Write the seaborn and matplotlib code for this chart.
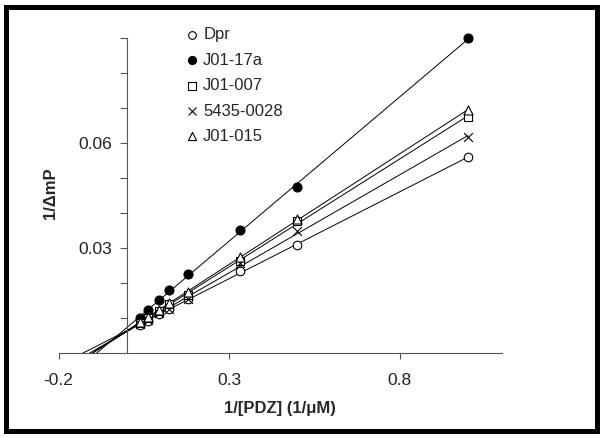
import matplotlib
matplotlib.use("Agg")
import matplotlib.pyplot as plt
from matplotlib.patches import Rectangle
import numpy as np
import pandas as pd
import seaborn as sns

# ---- data ----
inv_pdz = [1.0, 0.5, 0.333, 0.18, 0.125, 0.095, 0.062, 0.04]
dpr = [0.0560, 0.0309, 0.0236, 0.0155, 0.0127, 0.0111, 0.0093, 0.0082]
j01_17a = [0.0900, 0.0474, 0.0352, 0.0227, 0.0181, 0.0152, 0.0124, 0.0100]
j01_007 = [0.0676, 0.0379, 0.0264, 0.0166, 0.0140, 0.0122, 0.0101, 0.0088]
s5435_0028 = [0.0617, 0.0349, 0.0258, 0.0156, 0.0128, 0.0114, 0.0095, 0.0085]
j01_015 = [0.0695, 0.0384, 0.0274, 0.0174, 0.0145, 0.0125, 0.0104, 0.0090]

series_names = ["Dpr", "J01-17a", "J01-007", "5435-0028", "J01-015"]
series_values = [dpr, j01_17a, j01_007, s5435_0028, j01_015]

x_ticks = [-0.2, 0.3, 0.8]
x_tick_labels = ["-0.2", "0.3", "0.8"]
y_ticks = [0.01, 0.02, 0.03, 0.04, 0.05, 0.06, 0.07, 0.08, 0.09]
y_tick_labels = ["", "", "0.03", "", "", "0.06", "", "", ""]

# ---- styling ----
sns.set_style("white")
plt.rcParams["font.family"] = ["Liberation Sans", "DejaVu Sans"]
FS_TICK, FS_LAB, FS_LEG = 12.5, 12, 12

styles = {
    "Dpr": dict(marker="o", fc="white", s=38),
    "J01-17a": dict(marker="o", fc="black", s=42),
    "J01-007": dict(marker="s", fc="white", s=34),
    "5435-0028": dict(marker="x", fc="black", s=40),
    "J01-015": dict(marker="^", fc="white", s=42),
}

W, H = 601, 438
fig = plt.figure(figsize=(W / 100, H / 100), dpi=100)
ax = fig.add_axes([58.5 / W, 84.7 / H, 443.5 / W, 315 / H])

for name, vals in zip(series_names, series_values):
    df = pd.DataFrame({"x": inv_pdz, "y": vals})
    st = styles[name]
    # regression line extended back to the x axis, ending at the last point
    ax.set_xlim(-0.2, 1.0)
    ax.set_ylim(0, 0.09)
    scatter_kws = dict(s=st["s"], zorder=3, alpha=1, clip_on=False)
    if st["marker"] == "x":
        scatter_kws.update(color="black", linewidths=0.8)
    else:
        scatter_kws.update(facecolors=st["fc"], edgecolors="black", linewidths=0.8)
    sns.regplot(data=df, x="x", y="y", ax=ax, ci=None, truncate=False,
                marker=st["marker"], color="black", label=name,
                scatter_kws=scatter_kws,
                line_kws=dict(color="black", lw=0.7, zorder=2))

ax.set_xlim(-0.2, 1.1)
ax.set_ylim(0, 0.09)

ax.spines["left"].set_position(("data", 0))
ax.spines["top"].set_visible(False)
ax.spines["right"].set_visible(False)
for sp in ("left", "bottom"):
    ax.spines[sp].set_color("#555555")
    ax.spines[sp].set_linewidth(0.8)

ax.set_xticks(x_ticks)
ax.set_xticklabels(x_tick_labels)
ax.set_yticks(y_ticks)
ax.set_yticklabels(y_tick_labels)
ax.tick_params(axis="x", direction="out", length=4, width=0.8, color="#555555",
               pad=10, labelsize=FS_TICK, labelcolor="#222222", bottom=True)
ax.tick_params(axis="y", direction="out", length=5, width=0.8, color="#555555",
               pad=5.5, labelsize=FS_TICK, labelcolor="#222222", left=True)

ax.set_xlabel("1/[PDZ] (1/μM)", fontsize=FS_LAB, fontweight="bold")
ax.set_ylabel("1/ΔmP", fontsize=FS_LAB, fontweight="bold")
ax.xaxis.label.set_va("center")
ax.yaxis.label.set_va("center")
ax.xaxis.set_label_coords((279.6 - 58.5) / 443.5, (353.3 - 409) / 315)
ax.yaxis.set_label_coords((50 - 58.5) / 443.5, (353.3 - 193) / 315)

leg = ax.legend(loc="upper left", bbox_to_anchor=(184 / W, 1 - 27.5 / H),
                bbox_transform=fig.transFigure, frameon=False, fontsize=FS_LEG,
                handlelength=1.0, handletextpad=0.15, labelspacing=0.62,
                borderpad=0, borderaxespad=0, markerscale=0.9)

fig.patches.append(Rectangle((6 / W, 7 / H), 591 / W, 424 / H,
                             transform=fig.transFigure, fill=False,
                             lw=3.6, ec="black", zorder=10))

fig.savefig("out.png", dpi=100, facecolor="white")
